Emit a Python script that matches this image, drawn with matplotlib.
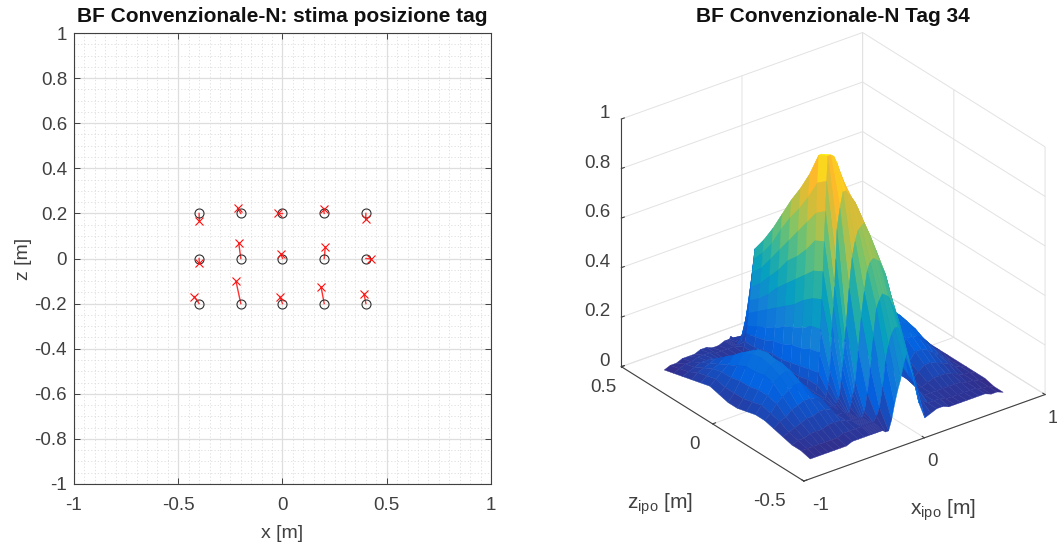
"""
BF Convenzionale-N: tag position estimates and beamforming surface for tag 34.
"""

import numpy as np
import matplotlib
matplotlib.use('Agg')
import matplotlib.pyplot as plt
from matplotlib.colors import LinearSegmentedColormap
from mpl_toolkits.mplot3d.art3d import Poly3DCollection

plt.rcParams['font.family'] = ['Liberation Sans', 'DejaVu Sans']
plt.rcParams['mathtext.default'] = 'regular'

# tag positions and estimates
tag_x = [-0.4, -0.2, 0.0, 0.2, 0.4, -0.4, -0.2, 0.0, 0.2, 0.4, -0.4, -0.2, 0.0, 0.2, 0.4]
tag_z = [0.2, 0.2, 0.2, 0.2, 0.2, 0.0, 0.0, 0.0, 0.0, 0.0, -0.2, -0.2, -0.2, -0.2, -0.2]
est_x = [-0.399, -0.215, -0.023, 0.197, 0.399, -0.399, -0.21, -0.007, 0.205, 0.424,
         -0.423, -0.223, -0.013, 0.185, 0.391]
est_z = [0.168, 0.222, 0.2, 0.219, 0.174, -0.019, 0.07, 0.02, 0.05, -0.002,
         -0.169, -0.101, -0.169, -0.126, -0.157]

# surface: rows follow x_ipo, columns follow z_ipo
# rows are closer together around the peak, where the surface rises like a cliff
x_ipo = [-0.80, -0.75, -0.70, -0.65, -0.60, -0.55, -0.50, -0.45, -0.40, -0.35, -0.30,
         -0.29, -0.28, -0.27, -0.26, -0.25, -0.24, -0.23, -0.22, -0.21,
         -0.20, -0.175, -0.15, -0.125, -0.10, -0.075, -0.05, -0.025, 0.00, 0.05, 0.10,
         0.15, 0.20, 0.25, 0.30, 0.35, 0.40, 0.45, 0.50, 0.55, 0.60, 0.65, 0.70, 0.75, 0.80]
z_ipo = [-0.40, -0.35, -0.30, -0.25, -0.20, -0.15, -0.10, -0.05, 0.00, 0.05, 0.10,
         0.15, 0.20, 0.25, 0.30, 0.35, 0.40]
bf_map = [
    [.01, .02, .02, .03, .04, .05, .05, .04, .03, .03, .04, .05, .04, .03, .02, .01, .00],
    [.01, .02, .03, .04, .06, .07, .08, .07, .06, .06, .06, .07, .06, .05, .03, .02, .01],
    [.01, .02, .03, .05, .07, .10, .11, .11, .10, .10, .09, .09, .08, .06, .04, .03, .01],
    [.01, .02, .04, .06, .09, .12, .15, .16, .15, .15, .13, .11, .09, .07, .05, .03, .02],
    [.01, .02, .04, .07, .10, .14, .17, .19, .20, .19, .17, .14, .11, .08, .05, .04, .02],
    [.01, .02, .04, .07, .11, .15, .18, .20, .21, .20, .17, .14, .10, .07, .05, .04, .02],
    [.01, .02, .05, .08, .11, .15, .17, .18, .18, .16, .13, .10, .07, .05, .04, .04, .03],
    [.02, .03, .05, .08, .10, .12, .13, .13, .12, .09, .07, .05, .04, .03, .03, .03, .03],
    [.02, .03, .05, .07, .09, .09, .08, .07, .05, .04, .03, .03, .03, .03, .03, .03, .02],
    [.02, .03, .04, .04, .05, .05, .05, .04, .04, .03, .03, .03, .03, .03, .03, .03, .02],
    [.02, .03, .03, .04, .04, .05, .05, .05, .04, .04, .03, .03, .03, .03, .03, .03, .03],
    [.02, .03, .03, .03, .04, .06, .08, .08, .07, .07, .06, .06, .05, .05, .05, .03, .03],
    [.02, .03, .03, .03, .05, .08, .13, .12, .11, .10, .09, .09, .08, .07, .07, .03, .03],
    [.02, .03, .03, .03, .06, .11, .21, .20, .18, .17, .15, .14, .12, .11, .10, .03, .03],
    [.02, .03, .03, .03, .07, .16, .30, .29, .26, .24, .22, .19, .17, .15, .13, .04, .03],
    [.02, .03, .03, .03, .10, .25, .42, .40, .37, .33, .30, .27, .24, .21, .18, .04, .04],
    [.02, .03, .03, .05, .14, .33, .53, .51, .47, .43, .39, .35, .30, .26, .23, .05, .03],
    [.02, .03, .03, .08, .19, .41, .65, .63, .57, .52, .48, .42, .37, .32, .28, .05, .03],
    [.02, .03, .03, .10, .24, .49, .77, .74, .68, .62, .56, .50, .44, .38, .34, .06, .03],
    [.02, .03, .04, .12, .30, .60, .89, .86, .78, .71, .65, .58, .50, .44, .39, .06, .02],
    [.02, .03, .05, .15, .35, .72, .99, .97, .87, .79, .72, .64, .56, .49, .43, .07, .02],
    [.01, .05, .12, .27, .50, .80, .99, .97, .87, .78, .71, .63, .55, .48, .42, .08, .02],
    [.01, .08, .22, .40, .62, .86, .98, .95, .86, .77, .70, .62, .54, .47, .40, .08, .01],
    [.05, .16, .34, .50, .68, .86, .95, .91, .83, .75, .67, .60, .53, .46, .38, .08, .02],
    [.11, .26, .45, .58, .72, .84, .91, .87, .80, .73, .65, .58, .51, .44, .36, .08, .02],
    [.16, .32, .48, .61, .73, .82, .87, .84, .77, .70, .63, .56, .49, .42, .33, .08, .02],
    [.20, .36, .50, .62, .74, .80, .83, .80, .74, .67, .60, .53, .47, .40, .30, .07, .03],
    [.26, .38, .49, .61, .71, .77, .79, .76, .70, .64, .57, .50, .44, .37, .27, .07, .03],
    [.30, .38, .48, .60, .68, .73, .75, .71, .66, .60, .54, .48, .42, .34, .24, .07, .03],
    [.20, .30, .42, .54, .61, .64, .64, .60, .55, .50, .45, .40, .34, .26, .16, .06, .03],
    [.08, .22, .34, .44, .50, .53, .51, .47, .43, .39, .35, .30, .24, .17, .10, .05, .03],
    [.01, .13, .24, .31, .37, .39, .36, .33, .30, .27, .24, .20, .15, .10, .07, .04, .03],
    [.02, .05, .13, .20, .24, .25, .22, .20, .18, .16, .14, .11, .08, .06, .05, .04, .03],
    [.03, .03, .06, .09, .12, .13, .11, .10, .09, .08, .07, .06, .05, .05, .05, .05, .04],
    [.03, .03, .03, .04, .05, .05, .05, .05, .05, .05, .05, .05, .05, .06, .06, .06, .05],
    [.02, .03, .03, .03, .04, .05, .06, .07, .08, .08, .08, .08, .08, .08, .07, .07, .05],
    [.02, .02, .03, .04, .06, .08, .11, .13, .14, .14, .14, .13, .12, .11, .09, .07, .05],
    [.02, .02, .03, .05, .08, .11, .14, .16, .17, .18, .17, .16, .15, .13, .10, .08, .05],
    [.02, .02, .03, .05, .08, .11, .14, .17, .18, .19, .18, .17, .15, .13, .10, .07, .05],
    [.02, .02, .03, .05, .07, .10, .13, .15, .17, .17, .16, .15, .13, .11, .09, .06, .04],
    [.02, .02, .03, .04, .06, .08, .11, .13, .14, .14, .13, .12, .10, .09, .07, .05, .03],
    [.02, .02, .02, .03, .05, .06, .08, .09, .10, .10, .09, .08, .07, .06, .05, .04, .03],
    [.01, .01, .02, .02, .03, .04, .05, .06, .06, .06, .06, .05, .05, .04, .03, .02, .02],
    [.01, .01, .01, .02, .02, .02, .03, .03, .03, .03, .03, .03, .02, .02, .02, .01, .01],
    [.00, .00, .01, .01, .01, .01, .01, .01, .01, .01, .01, .01, .01, .01, .01, .00, .00],
]

parula = LinearSegmentedColormap.from_list('parula', [
    (0.0, (.2081, .1663, .5292)),
    (0.125, (.0116, .3875, .8820)),
    (0.25, (.0779, .5040, .8384)),
    (0.375, (.0239, .6287, .7489)),
    (0.5, (.2161, .7143, .6000)),
    (0.625, (.5044, .7693, .4000)),
    (0.75, (.8000, .7450, .2400)),
    (0.875, (.9932, .7263, .1700)),
    (1.0, (.9763, .9831, .0538)),
])

TEXT = '#404040'
W, H = 1057, 545

fig = plt.figure(figsize=(W / 100, H / 100), dpi=100, facecolor='white')

# left panel
ax = fig.add_axes([74 / W, (H - 484) / H, 417 / W, 451 / H])
for tx, tz, ex, ez in zip(tag_x, tag_z, est_x, est_z):
    ax.plot([tx, ex], [tz, ez], color='#ff3030', lw=1.0, zorder=3)
ax.plot(tag_x, tag_z, 'o', mfc='none', mec='#303030', ms=6.5, mew=0.8, zorder=4)
ax.plot(est_x, est_z, 'x', color='#ff1010', ms=5.5, mew=0.8, zorder=5)
ax.set_xlim(-1, 1)
ax.set_ylim(-1, 1)
ax.set_xticks([-1, -0.5, 0, 0.5, 1])
ax.set_xticklabels(['-1', '-0.5', '0', '0.5', '1'])
ax.set_yticks(np.arange(-1, 1.01, 0.2))
ax.set_yticklabels(['-1', '-0.8', '-0.6', '-0.4', '-0.2', '0', '0.2', '0.4', '0.6', '0.8', '1'])
ax.set_xticks(np.arange(-1, 1.01, 0.05), minor=True)
ax.set_yticks(np.arange(-1, 1.01, 0.05), minor=True)
ax.grid(True, which='major', color='#dedede', lw=0.9)
ax.grid(True, which='minor', color='#dcdcdc', lw=0.6, ls=(0, (1.5, 2.5)))
ax.set_axisbelow(True)
ax.tick_params(which='minor', length=0)
ax.tick_params(which='major', direction='in', length=4, width=0.7, top=True, right=True,
               labelsize=13.5, colors=TEXT, pad=5)
ax.tick_params(axis='x', which='major', pad=9)
for spine in ax.spines.values():
    spine.set_color('#404040')
    spine.set_linewidth(0.8)
ax.set_xlabel('x [m]', fontsize=14, color=TEXT, labelpad=8)
ax.set_ylabel('z [m]', fontsize=14, color=TEXT, labelpad=2)
ax.set_title('BF Convenzionale-N: stima posizione tag', fontsize=15, fontweight='bold',
             color='#111111', pad=8)

# right panel
ax3 = fig.add_axes([578 / W, 9 / H, 497 / W, 1.0], projection='3d', proj_type='ortho',
                   computed_zorder=False)
ax3.patch.set_alpha(0)
ax3.view_init(elev=28.3, azim=-127.1)
ax3.set_box_aspect((1, 1, 0.93), zoom=1.0)

# facets go back to front, the depth sort of plot_surface breaks on the steep peak
zz = np.array(bf_map)
for i in range(len(x_ipo) - 2, -1, -1):
    for j in range(len(z_ipo) - 2, -1, -1):
        verts = [(x_ipo[i], z_ipo[j], zz[i, j]), (x_ipo[i + 1], z_ipo[j], zz[i + 1, j]),
                 (x_ipo[i + 1], z_ipo[j + 1], zz[i + 1, j + 1]), (x_ipo[i], z_ipo[j + 1], zz[i, j + 1])]
        col = parula(zz[i:i + 2, j:j + 2].mean())
        ax3.add_collection3d(Poly3DCollection([verts], facecolors=[col], edgecolors=[col],
                                              linewidths=0.3,
                                              zorder=(len(x_ipo) - i) * 100 + len(z_ipo) - j))
ax3.set_xlim(-1, 1, view_margin=0)
ax3.set_ylim(-0.5, 0.5, view_margin=0)
ax3.set_zlim(0, 1, view_margin=0)
ax3.set_xticks([-1, 0, 1])
ax3.set_xticklabels(['-1', '0', '1'])
ax3.set_yticks([-0.5, 0, 0.5])
ax3.set_yticklabels(['-0.5', '0', '0.5'])
ax3.set_zticks([0, 0.2, 0.4, 0.6, 0.8, 1])
ax3.set_zticklabels(['0', '0.2', '0.4', '0.6', '0.8', '1'])
for axis in (ax3.xaxis, ax3.yaxis, ax3.zaxis):
    axis.set_pane_color((1, 1, 1, 0))
    axis.pane.set_edgecolor((1, 1, 1, 0))
    axis.line.set_color('#404040')
    axis.line.set_linewidth(0.8)
    axis._axinfo['grid'].update(color='#e2e2e2', linewidth=0.7)
    axis._axinfo['tick'].update(inward_factor=0.0, outward_factor=0.15)
ax3.tick_params(labelsize=13.5, colors=TEXT)
ax3.xaxis.set_tick_params(pad=0)
ax3.yaxis.set_tick_params(pad=6)
ax3.zaxis.set_tick_params(pad=-3)
for t in ax3.get_xticklabels()[:1]:
    t.set_ha('left')
for t in ax3.get_yticklabels():
    t.set_va('baseline')
for t in ax3.get_yticklabels()[:1]:
    t.set_ha('right')
for t in ax3.get_zticklabels():
    t.set_va('baseline')
    t.set_ha('right')
fig.text(943 / W, (H - 510) / H, 'x$_{ipo}$ [m]', fontsize=15, color=TEXT, ha='center', va='center')
fig.text(660 / W, (H - 504) / H, 'z$_{ipo}$ [m]', fontsize=15, color=TEXT, ha='center', va='center')
fig.text(833 / W, (H - 17) / H, 'BF Convenzionale-N Tag 34', fontsize=15, fontweight='bold',
         color='#111111', ha='center', va='center')

fig.savefig('out.png', dpi=100, facecolor='white')
